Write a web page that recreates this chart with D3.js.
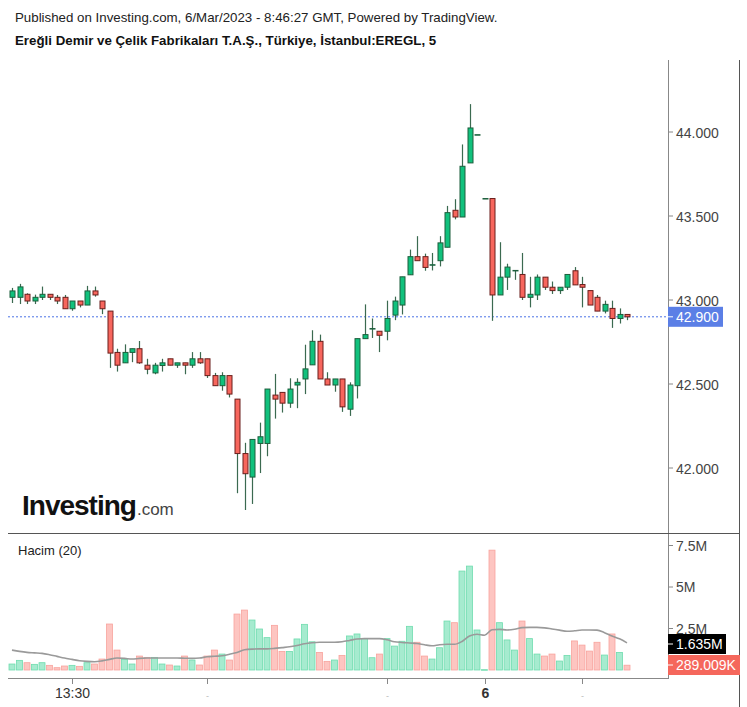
<!DOCTYPE html>
<html>
<head>
<meta charset="utf-8">
<script src="https://cdnjs.cloudflare.com/ajax/libs/d3/7.8.5/d3.min.js"></script>
<style>
body { margin: 0; background: #fff; }
svg { font-family: "Liberation Sans", Arial, sans-serif; }
</style>
</head>
<body>
<div id="chart"></div>
<script>
//Candle data, 5 minute bars (price in TRY, volume in millions)
var opens = [43.016,43.016,43.034,42.994,43.016,43.034,43.016,43.016,42.948,42.994,42.970,43.054,42.994,42.934,42.688,42.626,42.688,42.710,42.612,42.566,42.610,42.650,42.612,42.626,42.612,42.650,42.650,42.550,42.490,42.550,42.410,42.086,41.946,42.146,42.146,42.434,42.450,42.386,42.494,42.530,42.614,42.754,42.530,42.494,42.530,42.350,42.490,42.770,42.830,42.814,42.814,42.910,42.970,43.150,43.258,43.258,43.210,43.234,43.314,43.534,43.494,43.816,43.984,43.604,43.604,43.030,43.136,43.176,43.152,43.016,43.030,43.136,43.076,43.056,43.076,43.174,43.092,43.056,43.016,42.934,42.950,42.890,42.914]
var highs = [43.072,43.096,43.040,43.032,43.080,43.034,43.030,43.030,42.994,42.994,43.084,43.080,42.994,42.934,42.710,42.736,42.710,42.756,42.650,42.626,42.650,42.650,42.626,42.626,42.690,42.690,42.650,42.566,42.570,42.550,42.410,42.150,42.170,42.270,42.470,42.560,42.450,42.534,42.534,42.734,42.820,42.794,42.570,42.530,42.530,42.510,42.770,42.974,42.890,42.814,42.996,43.020,43.138,43.300,43.380,43.276,43.280,43.380,43.560,43.600,43.926,44.166,43.984,43.604,43.604,43.344,43.216,43.176,43.280,43.138,43.152,43.136,43.110,43.076,43.152,43.196,43.138,43.056,43.030,42.996,42.996,42.950,42.914]
var lows = [42.982,42.976,42.976,42.976,43.000,43.000,42.976,42.948,42.936,42.956,42.970,43.020,42.916,42.596,42.574,42.626,42.630,42.620,42.558,42.558,42.574,42.612,42.596,42.558,42.596,42.620,42.536,42.490,42.460,42.420,41.850,41.750,41.786,41.970,42.070,42.294,42.330,42.358,42.356,42.440,42.614,42.530,42.494,42.454,42.334,42.310,42.414,42.770,42.774,42.690,42.760,42.880,42.914,43.150,43.234,43.174,43.176,43.200,43.314,43.480,43.494,43.816,43.984,43.604,42.876,43.030,43.060,43.120,43.000,42.956,43.000,43.060,43.036,43.036,43.060,43.090,42.956,42.970,42.934,42.920,42.834,42.860,42.880]
var closes = [43.054,43.078,42.994,43.016,43.034,43.016,42.994,42.948,42.994,42.970,43.054,43.030,42.948,42.684,42.612,42.688,42.710,42.626,42.588,42.612,42.626,42.612,42.626,42.612,42.650,42.626,42.550,42.490,42.550,42.440,42.086,41.966,42.170,42.186,42.470,42.410,42.386,42.470,42.510,42.590,42.754,42.530,42.494,42.530,42.364,42.494,42.770,42.794,42.830,42.790,42.890,42.994,43.138,43.258,43.234,43.194,43.210,43.340,43.520,43.494,43.796,44.024,43.984,43.604,43.030,43.136,43.196,43.176,43.016,43.034,43.136,43.076,43.056,43.076,43.152,43.090,43.076,42.970,42.934,42.974,42.890,42.914,42.900]
var volumes = [0.36,0.58,0.44,0.34,0.44,0.28,0.14,0.24,0.28,0.22,0.44,0.36,0.66,2.77,1.20,0.64,0.36,0.84,0.76,0.76,0.36,0.30,0.24,0.84,0.60,0.30,0.84,1.20,0.96,0.60,3.37,3.61,3.01,2.47,1.95,2.69,1.12,1.12,1.87,2.75,1.70,1.06,0.52,0.60,0.88,2.05,2.17,1.89,0.74,0.96,1.89,1.44,1.73,2.63,1.67,0.84,0.66,1.34,2.95,2.85,5.96,6.26,2.41,0.02,7.22,2.85,1.81,1.20,2.95,1.89,0.96,0.84,0.96,0.54,0.88,1.75,1.50,1.14,1.67,0.90,2.17,1.06,0.289]
//Volume moving average (20)
var volumeMA = [1.20,1.12,1.06,1.03,1.00,0.92,0.82,0.72,0.64,0.56,0.52,0.50,0.55,0.64,0.72,0.70,0.66,0.70,0.72,0.72,0.72,0.72,0.72,0.71,0.70,0.72,0.80,0.83,0.86,0.95,1.05,1.22,1.26,1.27,1.27,1.30,1.35,1.40,1.48,1.58,1.64,1.67,1.67,1.67,1.70,1.78,1.87,1.89,1.89,1.89,1.82,1.70,1.66,1.63,1.60,1.52,1.46,1.52,1.55,1.55,1.72,2.05,2.15,2.09,2.42,2.45,2.41,2.45,2.55,2.57,2.57,2.54,2.47,2.40,2.33,2.36,2.41,2.41,2.40,2.25,2.05,1.88,1.635]

//Axis ticks
var priceTicks = [42.0, 42.5, 43.0, 43.5, 44.0]
var volumeTicks = [2.5, 5, 7.5]
var volumeTickLabels = ["2.5M", "5M", "7.5M"]
var timeTickIdx = [8, 26, 50, 63, 76]
var timeTickLabels = ["13:30", "-", "-", "6", "-"]
var lastPrice = 42.900
var lastMALabel = "1.635M"
var lastVolLabel = "289.009K"

var width = 747, height = 707
var green = "#11c17d", greenEdge = "#1d5e3c"
var red = "#f7665d", redEdge = "#6a1f1c"

var svg = d3.select("#chart").append("svg").attr("width", width).attr("height", height)

//Header texts
svg.append("text").attr("x", 15).attr("y", 22).attr("font-size", 13.3).attr("fill", "#222")
    .text("Published on Investing.com, 6/Mar/2023 - 8:46:27 GMT, Powered by TradingView.")
svg.append("text").attr("x", 15).attr("y", 45).attr("font-size", 13.3).attr("font-weight", "bold").attr("fill", "#111")
    .text("Ereğli Demir ve Çelik Fabrikaları T.A.Ş., Türkiye, İstanbul:EREGL, 5")

//Scales
var x = d3.scaleLinear().domain([0, 82]).range([12, 627])
var y = d3.scaleLinear().domain([42, 44]).range([468, 132])
var yv = d3.scaleLinear().domain([0, 7.5]).range([670, 545.5])

var plotLeft = 8, plotRight = 668

//Frame lines
svg.append("line").attr("x1", plotRight + 0.5).attr("x2", plotRight + 0.5).attr("y1", 60).attr("y2", 679).attr("stroke", "#888")
svg.append("line").attr("x1", 739.5).attr("x2", 739.5).attr("y1", 60).attr("y2", height).attr("stroke", "#555")
svg.append("line").attr("x1", plotLeft).attr("x2", 740).attr("y1", 533.5).attr("y2", 533.5).attr("stroke", "#555")
svg.append("line").attr("x1", plotLeft).attr("x2", plotRight).attr("y1", 678.5).attr("y2", 678.5).attr("stroke", "#888")

//Watermark logo
var logo = svg.append("text").attr("x", 22).attr("y", 515)
logo.append("tspan").attr("font-size", 28).attr("font-weight", "bold").attr("fill", "#111").attr("letter-spacing", -1).text("Investing")
logo.append("tspan").attr("font-size", 17).attr("fill", "#444").attr("dx", 1).text(".com")

//Price axis
var priceAxis = svg.append("g")
priceTicks.forEach(function(t) {
    priceAxis.append("line").attr("x1", plotRight).attr("x2", plotRight + 5).attr("y1", y(t)).attr("y2", y(t)).attr("stroke", "#888")
    priceAxis.append("text").attr("x", 676).attr("y", y(t) + 6).attr("font-size", 14).attr("fill", "#444").text(d3.format(".3f")(t))
})

//Volume axis
volumeTicks.forEach(function(t, i) {
    svg.append("line").attr("x1", plotRight).attr("x2", plotRight + 5).attr("y1", yv(t)).attr("y2", yv(t)).attr("stroke", "#888")
    svg.append("text").attr("x", 676).attr("y", yv(t) + 5).attr("font-size", 14).attr("fill", "#444").text(volumeTickLabels[i])
})

//Time axis
timeTickIdx.forEach(function(idx, i) {
    let tx = Math.round(x(idx)) + 0.5
    svg.append("line").attr("x1", tx).attr("x2", tx).attr("y1", 679).attr("y2", 684).attr("stroke", "#888")
    let lbl = timeTickLabels[i]
    if (lbl == "-") {
        svg.append("text").attr("x", tx).attr("y", 699).attr("text-anchor", "middle").attr("font-size", 9).attr("fill", "#bbb").text(lbl)
    } else {
        svg.append("text").attr("x", tx).attr("y", 698).attr("text-anchor", "middle").attr("font-size", 14)
            .attr("font-weight", lbl == "6" ? "bold" : "normal").attr("fill", "#333").text(lbl)
    }
})

//Volume bars
var idx = d3.range(opens.length)
svg.append("g").selectAll("rect").data(idx).enter().append("rect")
    .attr("x", function(i) { return x(i) - 3 })
    .attr("width", 6)
    .attr("y", function(i) { return yv(volumes[i]) })
    .attr("height", function(i) { return Math.max(0.6, yv(0) - yv(volumes[i])) })
    .attr("fill", function(i) { return closes[i] >= opens[i] ? "#a6ebcf" : "#fdc5c1" })
    .attr("stroke", function(i) { return closes[i] >= opens[i] ? "#6fdcae" : "#f8a39d" })
    .attr("stroke-width", 0.8)

//Volume MA line
var maLine = d3.line().x(function(d, i) { return x(i) }).y(function(d) { return yv(d) }).curve(d3.curveMonotoneX)
svg.append("path").datum(volumeMA).attr("d", maLine).attr("fill", "none").attr("stroke", "#9a9a9a").attr("stroke-width", 1.6)

svg.append("text").attr("x", 18).attr("y", 555).attr("font-size", 13).attr("fill", "#222").text("Hacim (20)")

//Last price dotted line
svg.append("line").attr("x1", plotLeft).attr("x2", plotRight).attr("y1", y(lastPrice)).attr("y2", y(lastPrice))
    .attr("stroke", "#4a72e6").attr("stroke-width", 1).attr("stroke-dasharray", "2,2")

//Candles: wicks then bodies
var candles = svg.append("g")
candles.selectAll("line").data(idx).enter().append("line")
    .attr("x1", function(i) { return Math.round(x(i)) + 0.5 })
    .attr("x2", function(i) { return Math.round(x(i)) + 0.5 })
    .attr("y1", function(i) { return y(highs[i]) })
    .attr("y2", function(i) { return y(lows[i]) })
    .attr("stroke", "#3b6a50").attr("stroke-width", 1.2)

candles.selectAll("rect").data(idx).enter().append("rect")
    .attr("x", function(i) { return Math.round(x(i)) - 2 })
    .attr("width", 5)
    .attr("y", function(i) { return y(Math.max(opens[i], closes[i])) })
    .attr("height", function(i) { return Math.max(0.5, Math.abs(y(opens[i]) - y(closes[i]))) })
    .attr("fill", function(i) { return closes[i] >= opens[i] ? green : red })
    .attr("stroke", function(i) { return closes[i] >= opens[i] ? greenEdge : redEdge })
    .attr("stroke-width", 1)

//Last value labels on right axes
function addBadge(yc, txt, bg, w) {
    svg.append("rect").attr("x", plotRight).attr("y", yc - 10).attr("width", w).attr("height", 20).attr("fill", bg)
    svg.append("line").attr("x1", plotRight).attr("x2", plotRight + 5).attr("y1", yc).attr("y2", yc).attr("stroke", "#fff")
    svg.append("text").attr("x", 676).attr("y", yc + 5).attr("font-size", 14).attr("fill", "#fff").text(txt)
}
addBadge(y(lastPrice), d3.format(".3f")(lastPrice), "#5b7fe6", 55)
addBadge(644, lastMALabel, "#000", 58)
addBadge(665, lastVolLabel, "#f5675c", 72)
</script>
</body>
</html>
